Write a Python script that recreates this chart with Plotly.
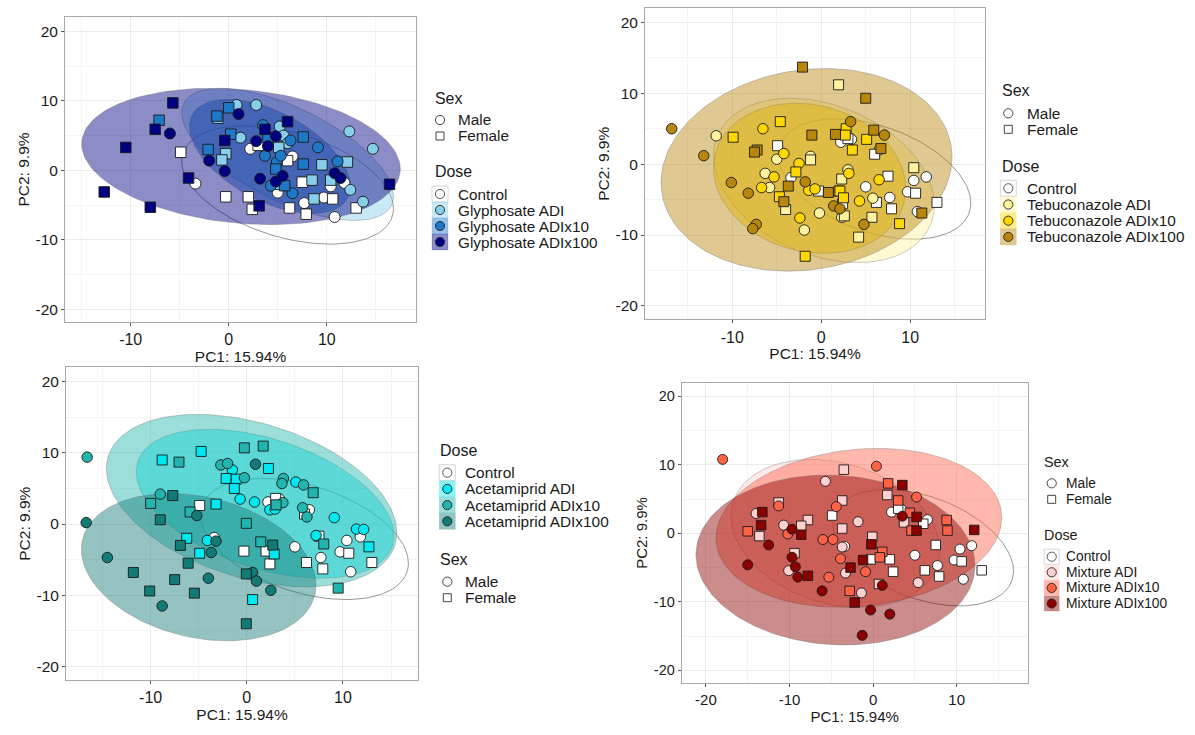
"""PCA score plots (PC1 vs PC2) for four pesticide exposures, coloured by dose, shaped by sex."""

import numpy as np
import plotly.graph_objects as go

FIG_W, FIG_H = 1195, 735
FONT = "Liberation Sans, Arial, sans-serif"

# ---------------------------------------------------------------- ticks / labels
pc2_ticks = [-20, -10, 0, 10, 20]
pc2_labels = ["-20", "-10", "0", "10", "20"]
pc1_ticks = [-10, 0, 10]
pc1_labels = ["-10", "0", "10"]
pc1_ticks_mix = [-20, -10, 0, 10]
pc1_labels_mix = ["-20", "-10", "0", "10"]

sex_labels = ["Male", "Female"]
gly_doses = ["Control", "Glyphosate ADI", "Glyphosate ADIx10", "Glyphosate ADIx100"]
teb_doses = ["Control", "Tebuconazole ADI", "Tebuconazole ADIx10", "Tebuconazole ADIx100"]
ace_doses = ["Control", "Acetamiprid ADI", "Acetamiprid ADIx10", "Acetamiprid ADIx100"]
mix_doses = ["Control", "Mixture ADI", "Mixture ADIx10", "Mixture ADIx100"]

gly_colors = ["#ffffff", "#87ceeb", "#1e78c8", "#000080"]
teb_colors = ["#ffffff", "#fff3a0", "#ffd700", "#b8860b"]
ace_colors = ["#ffffff", "#00e8f0", "#22b5ad", "#137b77"]
mix_colors = ["#ffffff", "#ffd0d0", "#ff6347", "#8b0000"]

# ---------------------------------------------------------------- scores (PC1, PC2)
# control animals are the same in every panel
ctrl_male = [(-3.4, -1.9), (2.2, 3.1), (3.4, 3.5), (6.5, 2.0), (5.0, -3.2), (7.7, -4.7),
             (9.7, -3.9), (10.8, -6.7), (11.8, -1.8), (10.4, -2.3)]
ctrl_female = [(-4.9, 2.6), (-0.3, -3.8), (2.0, -3.8), (2.4, -5.6), (6.2, -5.4), (7.9, -6.3),
               (10.6, -4.1), (13.0, -5.4), (7.5, -1.7), (6.0, 1.4), (3.0, 3.6)]

gly_adi_male = [(0.8, 9.4), (2.8, 9.4), (1.2, 4.7), (5.2, 6.3), (5.6, 5.0), (12.3, 5.6),
                (14.7, 3.1), (12.4, -2.8), (13.7, -4.5), (6.0, 3.9)]
gly_adi_female = [(-1.1, 7.5), (-0.3, 2.4), (-0.7, 1.5), (5.1, 3.3), (9.5, 0.8), (8.5, -1.4),
                  (8.7, -4.1), (12.1, 1.2), (10.4, -1.4), (5.3, -2.0)]
gly_x10_male = [(3.5, 6.5), (3.7, 2.1), (4.9, 1.2), (5.3, 2.1), (6.3, 4.3), (9.1, 3.3),
                (11.1, 1.3), (4.3, -2.2), (6.5, -3.3)]
gly_x10_female = [(0.0, 9.0), (-1.2, 7.8), (0.2, 5.2), (-2.1, 3.0), (7.6, 4.8), (7.6, 0.9),
                  (5.7, -2.2), (4.8, 0.2), (-7.1, 7.2), (4.0, 4.7)]
gly_x100_male = [(-6.0, 5.3), (-2.0, 1.4), (-0.4, -0.1), (1.0, 8.1), (3.2, -1.2), (4.0, 3.5),
                 (4.8, 4.9), (4.8, -1.6), (5.5, -0.8), (10.8, -0.4), (11.4, -1.1), (2.8, 4.2)]
gly_x100_female = [(-5.7, 9.7), (-10.5, 3.3), (-7.5, 5.9), (-12.7, -3.1), (-8.0, -5.3),
                   (-4.1, -1.1), (-0.4, 4.3), (3.7, 5.9), (6.0, 7.0), (3.1, -5.1), (16.4, -2.0)]

teb_adi_male = [(-11.8, 4.0), (-5.0, 0.7), (-6.3, -1.3), (-5.8, -3.3), (-1.2, 1.1), (-1.9, -9.3),
                (-0.2, -6.9), (3.0, -0.8), (5.8, -4.8), (2.3, -7.5)]
teb_adi_female = [(1.95, 11.2), (-1.2, 0.6), (-4.0, -6.4), (5.7, -7.5), (4.2, -10.3),
                  (10.4, -0.5), (2.3, -2.1), (2.6, -7.3)]
teb_x10_male = [(-6.55, 5.0), (-4.2, 1.5), (-2.5, 0.1), (-6.7, -3.3), (-5.3, -1.8), (-2.4, -7.6),
                (-1.4, -3.7), (-0.7, -3.5), (3.1, -1.3), (4.3, -5.2), (6.5, -2.2)]
teb_x10_female = [(-4.6, 6.0), (-9.9, 3.8), (-2.85, -1.1), (-4.7, -4.6), (-1.8, -13.0),
                  (2.8, 5.0), (2.7, 4.1), (3.5, 2.0), (5.1, 3.5), (2.1, -3.8), (2.5, -4.75),
                  (8.8, -8.4)]
teb_x100_male = [(-16.8, 5.0), (-13.2, 1.2), (-10.1, -2.6), (-8.2, -4.1), (-7.3, -8.5),
                 (-7.7, -9.1), (-1.8, -2.5), (1.4, -5.9), (2.1, -6.3), (3.3, 6.0), (7.1, 4.1),
                 (4.8, -8.5)]
teb_x100_female = [(-2.1, 13.7), (5.0, 9.3), (-1.05, 4.1), (1.6, 4.2), (5.9, 4.8), (6.7, 2.2),
                   (-7.2, 2.0), (-7.5, 1.7), (-3.7, -3.1), (-4.2, -5.3), (0.8, -4.0),
                   (11.3, -6.9)]

ace_adi_male = [(-1.5, 7.6), (-0.7, 3.5), (0.8, 3.1), (2.4, 2.0), (2.95, 2.1), (5.1, 5.9),
                (9.1, 0.9), (11.4, -0.7), (12.15, -0.75), (7.2, -1.6), (-4.1, -2.3)]
ace_adi_female = [(-8.8, 9.0), (-4.75, 10.2), (-2.15, 6.4), (-1.1, 6.3), (-1.3, 5.0),
                  (-3.2, 2.8), (-6.25, -2.0), (-4.9, -4.1), (2.25, 7.8), (2.85, -4.2),
                  (0.6, -10.6), (12.7, -3.2)]
ace_x10_male = [(-16.6, 9.4), (-9.0, 4.2), (-2.7, 8.3), (-2.0, 8.5), (-0.25, 6.5), (3.8, 6.4),
                (3.65, 5.7), (5.9, 5.5), (5.8, 2.3), (6.25, 1.0), (3.75, 3.0)]
ace_x10_female = [(-7.05, 8.7), (-0.25, 10.7), (1.7, 10.95), (6.9, 4.4), (8.0, -2.8),
                  (9.5, -9.0), (-10.0, 2.9), (-0.05, 0.1), (1.45, -2.5), (3.05, 2.7),
                  (-5.9, 1.7)]
ace_x100_male = [(-16.7, 0.2), (-14.5, -4.7), (-8.8, -11.5), (-4.0, -7.6), (-3.7, -4.0),
                 (-3.2, -2.4), (-5.2, 1.2), (0.9, 8.4), (0.6, -6.8), (1.0, -8.0), (2.5, -9.3)]
ace_x100_female = [(-11.8, -6.8), (-10.1, -9.4), (-7.5, -7.8), (-5.45, -9.7), (-6.1, -5.5),
                   (-6.9, -3.0), (-9.0, 0.6), (-7.7, 4.0), (-0.05, -7.0), (-0.05, -14.0),
                   (2.7, -2.95)]

mix_adi_male = [(-5.7, 7.6), (-10.7, 1.2), (-1.8, 1.7), (-3.7, -2.0), (-10.1, -5.45),
                (-3.3, -5.8), (-1.4, -8.7), (5.4, -7.2), (-14.0, 2.9)]
mix_adi_female = [(-3.5, 9.3), (-11.3, 4.5), (-3.7, 4.8), (-7.8, 1.95), (-8.6, 1.1),
                  (-13.6, -0.4), (-3.7, 0.7), (-0.1, -0.5), (1.7, 5.6), (3.7, 1.6),
                  (-9.4, -2.9), (0.7, -7.4)]
mix_x10_male = [(-18.0, 10.8), (0.4, 9.8), (-11.3, 4.0), (-4.4, 3.9), (5.2, 5.3), (-10.2, -0.1),
                (-6.0, -0.9), (-4.8, -0.9), (-3.9, -3.7), (-5.3, -6.4), (-0.9, -5.6)]
mix_x10_female = [(-15.0, 0.3), (1.8, 7.3), (3.0, 4.8), (4.4, 3.0), (8.8, 1.95), (8.9, 0.4),
                  (1.1, -2.7), (0.8, -3.5), (-2.8, -8.4), (4.6, 0.4)]
mix_x100_male = [(-15.0, -4.6), (-12.5, -1.7), (-9.7, 0.6), (-9.7, -3.5), (-9.3, -4.9),
                 (-9.0, -6.4), (-6.1, -8.4), (1.1, -7.6), (-0.3, -11.2), (2.0, -11.8),
                 (3.5, 2.5), (-1.3, -14.9)]
mix_x100_female = [(-13.25, 3.1), (-13.4, 1.2), (-8.6, -0.2), (-7.8, -6.2), (-0.2, -1.6),
                   (-2.7, -5.0), (-1.2, -3.9), (-2.2, -10.1), (3.5, 7.05), (5.2, 2.4),
                   (5.2, 0.4), (12.1, 0.5)]

# ---------------------------------------------------------------- 95% ellipses
# (centre PC1, centre PC2, half width, half height, PC2 offset at the right-most point)
ctrl_ellipse = (6.0, -2.1, 10.8, 8.5, -3.4)
gly_ellipses = [(6.0, 2.3, 10.8, 9.5, -6.0), (4.2, 2.0, 8.2, 8.2, -4.3),
                (1.25, 2.0, 16.25, 9.8, -1.8)]
teb_ellipses = [(0.3, -2.3, 12.4, 11.6, -3.5), (-1.3, -2.0, 10.8, 10.6, -1.5),
                (-1.65, -0.8, 16.35, 14.3, 1.8)]
ace_ellipses = [(1.9, 2.85, 13.4, 10.45, -4.5), (0.5, 3.3, 15.1, 12.1, -4.5),
                (-5.0, -6.05, 12.2, 10.35, -2.5)]
mix_ellipses = [(-4.5, 0.0, 12.5, 10.8, -2.5), (-1.7, 0.8, 17.1, 11.6, 1.5),
                (-4.5, -3.9, 16.7, 12.4, -0.8)]


def rgba(hex_color, alpha):
    h = hex_color.lstrip("#")
    r, g, b = int(h[0:2], 16), int(h[2:4], 16), int(h[4:6], 16)
    return f"rgba({r},{g},{b},{alpha})"


def ellipse_path(cx, cy, hx, hy, k, n=160):
    t = np.linspace(0, 2 * np.pi, n)
    m = np.sqrt(hy ** 2 - k ** 2)
    return cx + hx * np.cos(t), cy + k * np.cos(t) + m * np.sin(t)


def px_x(px):
    return px / FIG_W


def px_y(py):
    return 1 - py / FIG_H


FILL_ALPHA = 0.45
CTRL_FILL = "rgba(255,255,255,0.45)"
CTRL_LINE = "rgba(140,140,140,0.9)"
ELL_LINE = "rgba(110,110,110,0.45)"

panels = [
    dict(doses=gly_doses, colors=gly_colors, ellipses=gly_ellipses,
         groups=[(gly_adi_male, gly_adi_female), (gly_x10_male, gly_x10_female),
                 (gly_x100_male, gly_x100_female)],
         box=(65, 416, 17.3, 321.7), xrange=[-16.7, 19.1], yrange=[-21.75, 22.0],
         xticks=(pc1_ticks, pc1_labels), msize=11, tick=16, title=15.5,
         legend=dict(title_x=432.7, key_x=440, text_x=456,
                     sex_y=98.3, sex_rows=[120, 136], dose_y=171.7,
                     dose_rows=[194, 210, 226, 242], font=15.3, key=16)),
    dict(doses=teb_doses, colors=teb_colors, ellipses=teb_ellipses,
         groups=[(teb_adi_male, teb_adi_female), (teb_x10_male, teb_x10_female),
                 (teb_x100_male, teb_x100_female)],
         box=(645, 985, 8.3, 319.3), xrange=[-19.8, 18.4], yrange=[-21.9, 22.0],
         xticks=(pc1_ticks, pc1_labels), msize=10.5, tick=16, title=15.5,
         legend=dict(title_x=1000, key_x=1008.3, text_x=1025,
                     sex_y=90.7, sex_rows=[113.3, 129.3], dose_y=166,
                     dose_rows=[188.3, 204.5, 220.7, 236.9], font=15.4, key=16)),
    dict(doses=ace_doses, colors=ace_colors, ellipses=ace_ellipses,
         groups=[(ace_adi_male, ace_adi_female), (ace_x10_male, ace_x10_female),
                 (ace_x100_male, ace_x100_female)],
         box=(66, 418, 367.4, 680), xrange=[-18.8, 17.8], yrange=[-21.9, 22.0],
         xticks=(pc1_ticks, pc1_labels), msize=10.5, tick=16, title=15.5,
         legend=dict(title_x=438.3, key_x=447.3, text_x=463.3,
                     sex_y=559, sex_rows=[581.7, 597.7], dose_y=450,
                     dose_rows=[472.7, 488.9, 505.1, 521.3], font=15.4, key=16)),
    dict(doses=mix_doses, colors=mix_colors, ellipses=mix_ellipses,
         groups=[(mix_adi_male, mix_adi_female), (mix_x10_male, mix_x10_female),
                 (mix_x100_male, mix_x100_female)],
         box=(681.7, 1027.7, 382.7, 683.3), xrange=[-22.9, 18.5], yrange=[-21.9, 22.0],
         xticks=(pc1_ticks_mix, pc1_labels_mix), msize=10, tick=15, title=15,
         legend=dict(title_x=1042.3, key_x=1051.7, text_x=1064.3,
                     sex_y=462.3, sex_rows=[483.3, 499.3], dose_y=535,
                     dose_rows=[556.7, 572.3, 587.9, 603.5], font=13.8, key=15)),
]

fig = go.Figure()
shapes = []
annotations = []


def add_points(pts, symbol, color, size, xa, ya):
    if not pts:
        return
    fig.add_trace(go.Scatter(
        x=[p[0] for p in pts], y=[p[1] for p in pts], mode="markers",
        marker=dict(symbol=symbol, size=size if symbol == "circle" else size - 0.5,
                    color=color, line=dict(color="#1a1a1a", width=0.9)),
        hoverinfo="skip", xaxis=xa, yaxis=ya))


def add_legend(lg, doses, colors):
    fs = lg["font"]
    half = lg["key"] / 2

    def text(x, y, s, size):
        annotations.append(dict(x=px_x(x), y=px_y(y), xref="paper", yref="paper",
                                xanchor="left", yanchor="middle", showarrow=False,
                                text=s, font=dict(family=FONT, size=size, color="#1a1a1a")))

    # Sex block
    text(lg["title_x"], lg["sex_y"], "Sex", fs + 0.6)
    for label, yy, kind in zip(sex_labels, lg["sex_rows"], ["circle", "rect"]):
        r = 4.6 if kind == "circle" else 4.0
        cx = lg["key_x"]
        shapes.append(dict(type=kind, xref="paper", yref="paper",
                           x0=px_x(cx - r), x1=px_x(cx + r), y0=px_y(yy + r), y1=px_y(yy - r),
                           fillcolor="white", line=dict(color="#444444", width=1)))
        text(lg["text_x"], yy, label, fs)

    # Dose block
    text(lg["title_x"], lg["dose_y"], "Dose", fs + 0.6)
    for i, (label, yy) in enumerate(zip(doses, lg["dose_rows"])):
        cx = lg["key_x"]
        bg = CTRL_FILL if i == 0 else rgba(colors[i], FILL_ALPHA)
        edge = "rgba(180,180,180,0.9)" if i == 0 else rgba(colors[i], 0.25)
        shapes.append(dict(type="rect", xref="paper", yref="paper",
                           x0=px_x(cx - half), x1=px_x(cx + half),
                           y0=px_y(yy + half), y1=px_y(yy - half),
                           fillcolor=bg, line=dict(color=edge, width=0.6)))
        r = 4.6
        shapes.append(dict(type="circle", xref="paper", yref="paper",
                           x0=px_x(cx - r), x1=px_x(cx + r), y0=px_y(yy + r), y1=px_y(yy - r),
                           fillcolor=colors[i],
                           line=dict(color="#444444" if i == 0 else "#222222", width=0.9)))
        text(lg["text_x"], yy, label, fs)


for idx, p in enumerate(panels, start=1):
    xa = "x" if idx == 1 else f"x{idx}"
    ya = "y" if idx == 1 else f"y{idx}"

    # ellipses: control first, then increasing dose
    ex, ey = ellipse_path(*ctrl_ellipse)
    fig.add_trace(go.Scatter(x=ex, y=ey, mode="lines", fill="toself", fillcolor=CTRL_FILL,
                             line=dict(color=CTRL_LINE, width=1), hoverinfo="skip",
                             xaxis=xa, yaxis=ya))
    for ell, col in zip(p["ellipses"], p["colors"][1:]):
        ex, ey = ellipse_path(*ell)
        fig.add_trace(go.Scatter(x=ex, y=ey, mode="lines", fill="toself",
                                 fillcolor=rgba(col, FILL_ALPHA),
                                 line=dict(color=ELL_LINE, width=0.8), hoverinfo="skip",
                                 xaxis=xa, yaxis=ya))

    # points
    add_points(ctrl_male, "circle", "#ffffff", p["msize"], xa, ya)
    add_points(ctrl_female, "square", "#ffffff", p["msize"], xa, ya)
    for (males, females), col in zip(p["groups"], p["colors"][1:]):
        add_points(males, "circle", col, p["msize"], xa, ya)
        add_points(females, "square", col, p["msize"], xa, ya)

    x0, x1, y0, y1 = p["box"]
    tick_font = dict(family=FONT, size=p["tick"], color="#1a1a1a")
    title_font = dict(family=FONT, size=p["title"], color="#1a1a1a")
    common = dict(showgrid=True, gridcolor="#ebebeb", gridwidth=1, zeroline=False,
                  showline=True, mirror=True, linecolor="#a8a8a8", linewidth=1,
                  ticks="outside", ticklen=3, tickcolor="#555555", tickwidth=1,
                  tickfont=tick_font,
                  minor=dict(tick0=-5, dtick=10, showgrid=True, gridcolor="#f5f5f5",
                             gridwidth=0.7, ticks=""))
    fig.layout[f"xaxis{'' if idx == 1 else idx}"] = dict(
        common, domain=[px_x(x0), px_x(x1)], anchor=ya, range=p["xrange"],
        tickmode="array", tickvals=p["xticks"][0], ticktext=p["xticks"][1],
        title=dict(text="PC1: 15.94%", font=title_font, standoff=0))
    fig.layout[f"yaxis{'' if idx == 1 else idx}"] = dict(
        common, domain=[px_y(y1), px_y(y0)], anchor=xa, range=p["yrange"],
        tickmode="array", tickvals=pc2_ticks, ticktext=pc2_labels,
        tickfont=dict(tick_font, size=p["tick"] - 0.5),
        title=dict(text="PC2: 9.9%", font=title_font, standoff=2))

    add_legend(p["legend"], p["doses"], p["colors"])

fig.update_layout(
    width=FIG_W, height=FIG_H, margin=dict(l=0, r=0, t=0, b=0),
    paper_bgcolor="white", plot_bgcolor="white", showlegend=False,
    font=dict(family=FONT), shapes=shapes, annotations=annotations,
)

# drop the browser's default body margin so the figure sits at the page origin
fig.write_html("out.html", config={"displayModeBar": False},
               post_script="document.body.style.margin = '0';")
